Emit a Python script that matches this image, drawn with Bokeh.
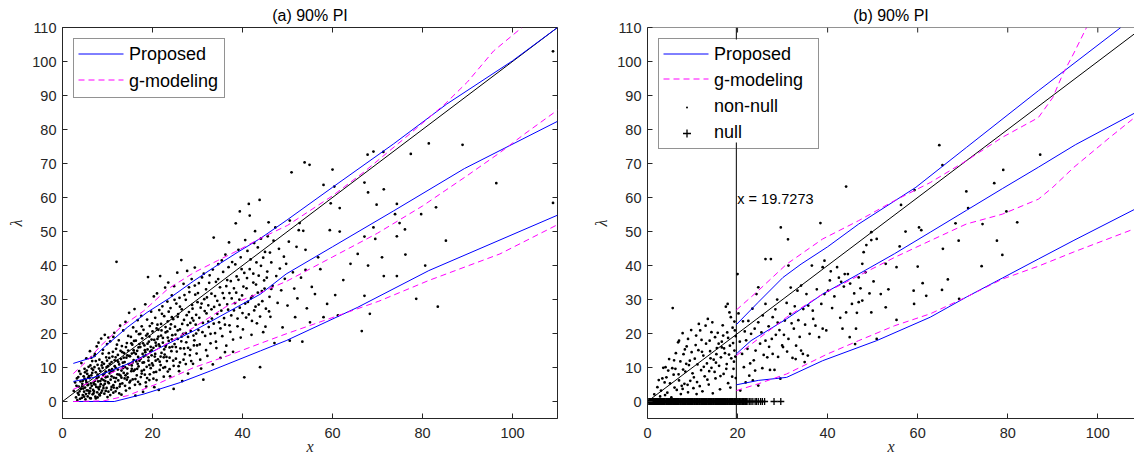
from bokeh.plotting import figure
from bokeh.layouts import row
from bokeh.models import Range1d, Label, FixedTicker, Span, Legend, LegendItem
from bokeh.embed import file_html
from bokeh.resources import INLINE

BLUE = "#0000ff"
MAG = "#ff00ff"
AX = "#262626"
FONT = "Liberation Sans"
SERIF = "Liberation Serif"

x_ticks = [0, 20, 40, 60, 80, 100]
y_ticks = [0, 10, 20, 30, 40, 50, 60, 70, 80, 90, 100, 110]
titles = ["(a) 90% PI", "(b) 90% PI"]
threshold = 19.7273

# ---------------- panel (a) ----------------
a_diag_x = [0, 110]
a_diag_y = [0, 110]
a_prop_up_x = [2.4, 7.0, 9.2, 14.4, 18.8, 24.0, 29.2, 33.6, 38.8, 44.0, 49.7, 60.0, 73.5, 85.4, 100.0, 110.0]
a_prop_up_y = [11.2, 13.1, 15.9, 21.8, 26.2, 30.6, 35.5, 39.4, 43.8, 48.0, 53.2, 63.0, 75.7, 87.5, 100.2, 110.0]
a_gmod_up_x = [2.4, 5.5, 8.5, 12.9, 18.1, 23.3, 29.2, 34.4, 38.8, 44.0, 50.0, 60.0, 67.0, 72.0, 77.0, 85.0, 90.0, 95.8, 102.1]
a_gmod_up_y = [8.2, 12.0, 16.4, 21.8, 26.7, 33.0, 37.9, 41.4, 44.3, 48.0, 51.8, 60.5, 67.5, 73.0, 78.5, 87.5, 94.0, 103.1, 110.0]
a_prop_mid_x = [2.4, 7.0, 10.7, 14.4, 18.1, 21.8, 29.2, 36.6, 44.0, 49.7, 60.0, 73.5, 89.3, 110.0]
a_prop_mid_y = [5.9, 7.1, 9.0, 11.0, 13.4, 15.9, 20.8, 26.2, 31.6, 37.5, 45.5, 56.0, 68.5, 82.4]
a_gmod_mid_x = [2.4, 7.0, 14.4, 21.8, 29.2, 36.6, 44.0, 50.0, 60.0, 70.0, 80.0, 90.0, 97.0, 103.0, 110.0]
a_gmod_mid_y = [3.6, 6.1, 10.5, 15.9, 21.8, 28.1, 32.0, 35.5, 42.5, 49.5, 57.5, 66.5, 73.0, 79.0, 85.7]
a_prop_lo_x = [2.4, 11.5, 18.1, 26.2, 32.9, 44.0, 49.7, 65.6, 81.4, 110.0]
a_prop_lo_y = [0.0, 0.0, 2.2, 5.6, 9.0, 14.9, 17.9, 27.7, 38.5, 54.8]
a_gmod_lo_x = [2.4, 9.2, 14.4, 21.8, 29.2, 36.6, 44.0, 49.7, 62.4, 70.3, 81.4, 97.2, 110.0]
a_gmod_lo_y = [0.0, 0.2, 1.7, 5.6, 10.0, 13.4, 17.1, 19.9, 25.8, 29.5, 35.6, 43.4, 52.0]

a_pts = [
    (2.5,3.1),(2.8,5.6),(3.0,1.2),(3.2,6.8),(3.4,2.5),(3.6,4.4),(3.7,8.9),(3.9,0.8),(4.1,3.7),(4.2,11.3),
    (4.4,5.2),(4.5,1.9),(4.7,7.4),(4.8,2.9),(4.9,9.6),(5.0,4.1),(5.1,0.6),(5.2,6.3),(5.3,12.7),(5.4,3.3),
    (5.5,8.1),(5.6,1.5),(5.7,5.0),(5.8,10.2),(5.9,2.4),(6.0,6.9),(6.1,14.8),(6.2,3.9),(6.3,0.9),(6.4,7.7),
    (6.5,4.6),(6.6,11.9),(6.7,2.1),(6.8,9.3),(6.9,5.5),(7.0,3.0),(7.1,13.4),(7.2,6.1),(7.3,1.4),(7.4,8.6),
    (7.5,4.3),(7.6,16.2),(7.7,2.7),(7.8,10.8),(7.9,5.9),(8.0,7.2),(8.1,3.6),(8.2,12.3),(8.3,1.8),(8.4,9.0),
    (8.5,5.1),(8.6,18.5),(8.7,6.6),(8.8,3.2),(8.9,14.1),(9.0,7.9),(9.1,4.7),(9.2,11.1),(9.3,2.3),(9.4,19.6),
    (9.5,6.0),(9.6,8.8),(9.7,13.0),(9.8,4.0),(9.9,16.9),(10.0,7.3),(10.1,10.4),(10.2,2.9),(10.3,5.4),(10.4,12.8),
    (10.5,8.3),(10.6,17.7),(10.7,6.4),(10.8,3.5),(10.9,11.6),(11.0,9.5),(11.2,14.6),(11.3,4.8),(11.4,7.0),(11.5,20.2),
    (11.6,12.1),(11.7,5.8),(11.8,9.9),(11.9,15.5),(12.0,41.1),(12.1,3.9),(12.2,8.0),(12.3,13.7),(12.4,6.2),(12.5,18.0),
    (12.6,10.9),(12.7,4.4),(12.8,22.3),(12.9,7.6),(13.0,12.5),(13.1,9.1),(13.2,16.3),(13.3,5.3),(13.4,11.4),(13.5,20.9),
    (13.6,8.4),(13.7,14.2),(13.8,6.8),(13.9,10.1),(14.0,23.4),(14.1,3.2),(14.2,12.9),(14.3,17.2),(14.4,9.7),(14.5,7.1),
    (14.6,15.0),(14.7,11.0),(14.8,26.1),(14.9,5.6),(15.0,13.3),(15.2,19.0),(15.3,8.9),(15.4,10.6),(15.5,16.7),(15.6,6.5),
    (15.7,21.8),(15.8,12.2),(15.9,14.4),(16.0,27.2),(16.1,9.4),(16.2,1.7),(16.3,17.9),(16.4,11.8),(16.5,7.7),(16.6,14.9),
    (16.7,23.9),(16.8,13.1),(16.9,10.3),(17.0,19.8),(17.2,5.1),(17.3,16.0),(17.4,12.6),(17.5,25.2),(17.6,9.0),(17.7,18.6),
    (17.8,14.0),(17.9,2.8),(18.0,21.1),(18.1,11.5),(18.2,16.5),(18.3,7.9),(18.4,28.6),(18.5,13.6),(18.6,19.4),(18.7,10.2),
    (18.8,24.1),(18.9,15.3),(19.0,36.6),(19.1,12.0),(19.2,17.6),(19.3,6.3),(19.4,22.2),(19.5,14.7),(19.6,9.8),(19.7,26.4),
    (19.8,18.2),(19.9,11.2),(20.0,20.6),(20.2,15.8),(20.3,30.9),(20.4,4.2),(20.5,13.2),(20.6,24.6),(20.7,17.3),(20.8,8.7),
    (20.9,21.5),(21.0,31.8),(21.2,12.4),(21.3,19.1),(21.4,3.4),(21.5,26.9),(21.6,16.2),(21.7,36.9),(21.8,10.7),(21.9,22.8),
    (22.0,14.3),(22.2,28.0),(22.3,18.7),(22.5,7.3),(22.6,25.1),(22.7,13.8),(22.8,33.5),(22.9,20.3),(23.0,16.6),(23.2,11.9),
    (23.3,29.4),(23.4,23.6),(23.5,35.0),(23.6,17.8),(23.8,9.5),(23.9,21.4),(24.0,27.5),(24.2,14.8),(24.3,31.2),(24.4,19.5),
    (24.6,24.2),(24.7,3.7),(24.8,33.9),(24.9,16.9),(25.0,22.0),(25.2,12.6),(25.3,28.8),(25.5,37.9),(25.6,18.4),(25.7,25.7),
    (25.8,10.4),(26.0,30.5),(26.1,21.2),(26.2,15.6),(26.4,41.6),(26.5,27.1),(26.6,6.0),(26.8,19.9),(26.9,34.6),(27.0,24.0),
    (27.2,13.9),(27.4,29.9),(27.5,17.4),(27.7,38.4),(27.8,22.5),(27.9,8.2),(28.1,26.3),(28.2,32.2),(28.4,15.2),(28.5,20.7),
    (28.7,36.0),(28.8,28.4),(29.0,11.1),(29.1,23.8),(29.3,18.0),(29.4,39.4),(29.5,31.4),(29.7,25.5),(29.8,14.1),(30.0,29.2),
    (30.2,21.0),(30.3,34.8),(30.5,16.8),(30.7,27.6),(30.8,9.7),(31.0,36.5),(31.2,23.1),(31.3,6.4),(31.5,30.1),(31.7,19.3),
    (31.9,33.0),(32.0,25.9),(32.2,13.4),(32.4,28.3),(32.5,21.9),(32.7,37.1),(32.9,17.1),(33.1,31.7),(33.2,24.4),(33.4,10.9),
    (33.6,48.2),(33.7,27.8),(33.9,20.1),(34.1,35.2),(34.2,15.7),(34.4,29.6),(34.6,40.4),(34.8,23.3),(35.0,33.6),(35.1,12.8),
    (35.3,26.7),(35.5,19.2),(35.7,38.1),(35.9,30.4),(36.1,22.6),(36.2,43.2),(36.4,16.4),(36.6,35.7),(36.8,27.0),(37.0,46.8),
    (37.1,31.9),(37.3,20.5),(37.5,25.3),(37.7,41.0),(37.9,14.6),(38.1,33.3),(38.3,28.9),(38.5,52.4),(38.7,36.8),(38.9,22.1),
    (39.1,44.6),(39.3,30.0),(39.4,55.9),(39.6,18.8),(39.8,38.9),(40.0,26.0),(40.2,33.8),(40.4,7.1),(40.6,47.5),(40.8,24.7),
    (41.0,36.3),(41.2,29.3),(41.4,58.1),(41.6,54.7),(41.8,41.8),(42.0,19.6),(42.2,31.0),(42.4,37.6),(42.6,26.8),(42.8,50.1),
    (43.0,34.4),(43.2,23.0),(43.4,45.3),(43.6,28.5),(43.8,59.3),(43.9,10.1),(44.1,39.9),(44.3,32.5),(44.6,20.4),(44.8,35.6),
    (45.0,44.0),(45.2,27.3),(45.5,38.2),(45.8,52.7),(46.0,30.8),(46.2,24.9),(46.4,40.9),(46.7,34.0),(46.9,47.3),(47.1,17.2),
    (47.3,51.2),(47.5,36.9),(47.8,29.0),(48.1,44.9),(48.3,39.1),(48.6,32.7),(48.9,21.8),(49.2,42.6),(49.4,36.1),(49.7,40.5),
    (50.0,28.2),(50.3,47.0),(50.5,53.2),(50.5,17.9),(50.9,67.4),(51.2,38.0),(51.5,33.2),(51.7,24.8),(52.0,45.5),(52.2,30.3),
    (52.5,50.4),(52.7,52.5),(53.0,36.4),(53.3,17.6),(53.5,50.2),(53.8,70.3),(54.0,44.6),(54.0,38.7),(54.3,27.4),(54.9,69.6),
    (55.0,23.3),(55.4,33.7),(56.1,31.6),(56.8,42.4),(57.3,38.9),(58.0,63.7),(58.0,24.8),(58.8,28.7),(59.4,50.4),(59.6,58.3),
    (60.0,68.2),(60.4,63.2),(60.6,31.3),(61.2,25.3),(61.6,56.9),(61.6,50.0),(62.4,35.7),(64.0,40.5),(65.6,43.4),(66.5,20.7),
    (67.1,64.4),(67.1,48.5),(67.1,31.1),(67.8,72.6),(67.9,61.5),(67.9,40.0),(68.3,25.8),(69.1,73.5),(69.1,51.2),(69.5,47.8),
    (69.8,57.9),(71.0,42.4),(71.3,73.4),(71.4,62.4),(71.4,36.9),(73.9,55.1),(74.3,58.1),(74.3,48.6),(74.3,36.9),(74.9,52.5),
    (76.1,50.6),(76.2,43.2),(77.4,72.8),(78.6,30.2),(79.7,55.1),(80.6,40.0),(81.4,75.9),(83.0,57.1),(83.4,27.9),(85.2,47.3),
    (88.9,75.5),(96.4,64.2),(109.0,103.0),(109.0,58.4),
    (3.1,4.6),(3.3,0.4),(3.5,7.2),(3.8,3.0),(4.0,5.9),(4.3,1.1),(4.6,3.8),(4.9,6.7),(5.2,2.2),(5.4,9.1),
    (5.6,4.8),(5.9,7.5),(6.1,1.0),(6.3,5.3),(6.6,8.4),(6.8,3.4),(7.1,10.1),(7.3,5.0),(7.6,6.8),(7.8,1.2),
    (8.1,9.7),(8.3,4.4),(8.6,2.6),(8.8,11.5),(9.1,6.3),(9.3,8.2),(9.6,3.1),(9.9,12.0),(10.1,5.7),(10.4,9.2),
    (10.6,1.9),(10.9,7.4),(11.1,13.2),(11.4,4.1),(11.6,10.4),(11.9,6.9),(12.1,16.7),(12.4,11.6),(12.6,2.4),(12.9,14.9),
    (13.1,7.0),(13.4,9.8),(13.6,12.9),(13.9,4.6),(14.1,16.0),(14.4,8.2),(14.6,19.3),(14.9,10.9),(15.1,6.1),(15.4,14.1),
    (15.6,11.5),(15.9,17.8),(16.1,4.9),(16.4,20.6),(16.6,9.6),(16.9,15.9),(17.1,12.0),(17.4,7.2),(17.6,22.1),(17.9,17.1),
    (18.1,9.3),(18.4,14.5),(18.6,4.4),(18.9,19.9),(19.1,13.0),(19.4,8.0),(19.6,16.1),(19.9,23.0),(20.1,10.6),(20.4,18.1),
    (20.6,14.0),(20.9,6.3),(21.1,22.6),(21.4,16.8),(21.6,11.7),(21.9,19.4),(22.1,25.8),(22.4,9.9),(22.6,15.3),(22.9,21.9),
    (23.1,13.1),(23.4,18.8),(23.6,26.4),(23.9,7.4),(24.1,22.7),(24.4,16.1),(24.6,12.0),(24.9,29.9),(25.1,19.7),(25.4,14.7),
    (25.6,24.9),(25.9,8.9),(26.1,27.9),(26.4,17.7),(26.6,22.8),(26.9,12.3),(27.1,31.3),(27.4,20.1),(27.6,25.4),(27.9,15.8),
    (28.1,33.6),(28.4,23.1),(28.6,11.9),(28.9,27.3),(29.1,19.4),(29.4,34.1),(29.6,22.6),(29.9,16.5),(30.1,31.9),(30.4,24.6),
    (30.6,12.3),(30.9,28.8),(31.1,20.4),(31.4,37.6),(31.6,26.6),(31.9,15.1),(32.1,30.6),(32.4,23.5),(32.6,34.9),(32.9,19.9),
    (33.1,27.1),(33.4,38.8),(33.6,22.9),(33.9,31.0),(34.1,17.6),(34.4,25.8),(34.6,36.0),(34.9,28.4),(35.1,21.5),(35.4,41.5),
    (35.6,31.9),(35.9,24.5),(36.1,14.5),(36.4,33.9),(36.6,28.6),(36.9,39.5),(37.1,22.4),(37.4,35.4),(37.6,30.3),(37.9,18.2),
    (38.1,26.8),(38.4,40.3),(38.6,32.0),(38.9,24.4),(39.1,35.8),(39.4,27.6),(39.6,42.4),(39.9,31.2),(40.1,21.2),(40.4,37.8),
    (40.6,28.8),(40.9,33.3),(41.1,44.3),(41.4,25.6),(41.6,38.9),(41.9,30.4),(42.1,23.7),(42.4,35.0),(42.6,46.6),(42.9,27.9),
    (43.1,40.9),(43.4,32.0),(43.6,37.0),(43.9,25.0),(44.1,47.9),(44.4,29.5),(44.6,42.3),(44.9,33.2),(45.1,22.0),(45.4,36.4),
    (45.6,48.6),(45.9,26.5),(46.1,43.8),(46.4,33.1),(7.2,14.0),(8.0,17.3),(9.0,15.2),(10.2,18.8),(11.3,19.0),(6.4,12.9),
    (4.5,6.1),(5.0,8.6),(5.7,3.2),(6.2,10.6),(6.9,2.4),(7.4,11.9),(7.9,4.1),(8.4,6.0),(8.9,9.9),(9.4,5.2),
    (9.8,10.1),(10.3,14.2),(10.8,8.9),(11.3,2.6),(11.8,13.0),(12.3,9.4),(12.8,5.1),(13.3,14.5),(13.8,11.6),(14.3,6.4),
    (14.8,13.4),(15.3,17.1),(15.8,9.0),(16.3,14.0),(16.8,5.8),(17.3,19.9),(17.8,11.4),(18.3,15.1),(18.8,6.9),(19.3,19.1),
    (19.8,13.6),(20.3,8.6),(20.8,16.4),(21.3,21.1),(21.8,13.2),(22.3,17.3),(22.8,10.1),(23.3,20.6),(23.8,15.9),(24.3,24.8),
    (3.6,2.0),(4.0,8.1),(4.4,4.5),(4.8,1.4),(5.3,5.7),(5.7,7.0),(6.1,3.0),(6.5,9.7),(7.0,5.1),(7.4,0.9),
    (7.8,7.9),(8.2,2.1),(8.7,10.6),(9.1,3.9),(9.6,7.1),(10.0,1.3),(10.5,11.1),(10.9,4.3),(11.3,9.0),(11.8,3.0),
    (12.2,12.0),(12.6,7.9),(13.1,2.0),(13.5,10.3),(14.0,7.7),(14.4,13.6),(14.9,3.9),(15.4,9.6),(15.8,15.1),(16.2,6.6),
    (16.7,11.1),(17.1,16.9),(17.6,8.2),(18.0,13.2),(18.5,5.6),(18.9,17.0),(19.3,10.7),(19.8,15.1),(20.2,6.7),(20.7,12.0),
    (21.1,18.4),(21.6,9.3),(22.0,20.9),(22.5,13.0),(22.9,16.1),(23.4,8.8),(23.8,12.9),(24.3,18.3),(24.7,10.5),(25.2,16.0),
    (25.6,20.9),(26.1,11.5),(26.5,19.1),(27.0,15.6),(27.4,11.0),(27.9,19.0),(28.3,13.6),(28.8,24.5),(29.2,16.5),(29.7,20.0),
]
a_pts_x = [p[0] for p in a_pts]
a_pts_y = [p[1] for p in a_pts]

# ---------------- panel (b) ----------------
b_prop_up_x = [19.7273, 24.6, 30.1, 34.1, 40.0, 46.9, 59.6, 70.8, 86.8, 105.1]
b_prop_up_y = [22.6, 29.2, 36.5, 40.4, 45.5, 52.2, 63.0, 74.7, 91.4, 110.0]
b_gmod_up_x = [19.7273, 24.6, 30.9, 38.9, 46.9, 54.9, 62.8, 70.8, 78.8, 86.8, 90.0, 92.3, 94.7, 97.5]
b_gmod_up_y = [26.9, 32.6, 40.4, 47.8, 53.2, 59.1, 64.4, 70.8, 77.7, 83.5, 89.4, 96.5, 102.5, 110.0]
b_prop_mid_x = [19.7273, 23.0, 30.9, 38.9, 46.9, 54.9, 62.8, 70.8, 78.8, 86.8, 95.0, 108.15]
b_prop_mid_y = [14.0, 17.9, 24.3, 31.6, 37.5, 43.5, 49.8, 56.2, 62.6, 68.9, 75.5, 84.8]
b_gmod_mid_x = [19.7273, 30.9, 38.9, 46.9, 54.9, 62.8, 70.8, 78.8, 86.8, 90.0, 94.7, 102.7, 108.15]
b_gmod_mid_y = [13.5, 24.8, 31.6, 37.0, 42.4, 47.3, 52.2, 55.1, 59.5, 63.0, 68.9, 77.7, 83.5]
b_prop_lo_x = [19.7273, 24.6, 30.9, 38.9, 50.9, 62.8, 70.8, 78.8, 86.8, 94.7, 108.15]
b_prop_lo_y = [4.9, 6.2, 7.1, 12.0, 17.9, 24.8, 30.7, 36.3, 41.9, 47.4, 56.5]
b_gmod_lo_x = [19.7273, 24.6, 30.9, 40.0, 46.9, 54.9, 62.8, 70.8, 78.8, 86.8, 94.7, 108.15]
b_gmod_lo_y = [3.2, 5.2, 8.1, 14.0, 17.9, 22.3, 25.8, 30.7, 36.0, 39.8, 44.0, 50.8]

b_nonnull = [
    (2.2,4.2),(2.8,1.5),(3.3,6.8),(3.5,9.9),(4.0,10.1),(4.2,7.1),(4.4,2.6),(4.6,9.1),(5.0,5.3),(5.3,1.2),
    (5.6,27.5),(5.8,7.9),(6.2,9.6),(6.5,3.4),(6.8,17.4),(7.0,6.2),(7.0,17.9),(7.3,11.8),(7.6,4.6),(7.8,20.1),
    (7.8,3.7),(8.0,13.9),(8.2,5.2),(8.4,8.8),(8.7,16.2),(9.0,2.7),(9.0,18.4),(9.2,10.7),(9.5,6.1),(9.8,14.5),
    (10.0,8.3),(10.2,3.9),(10.5,12.6),(10.8,19.4),(11.0,5.7),(11.3,15.1),(11.4,22.8),(11.7,20.9),(11.9,9.2),(12.2,3.0),
    (12.4,13.5),(12.7,7.4),(13.0,17.0),(13.2,11.2),(13.4,24.3),(13.6,5.0),(13.9,14.8),(14.2,20.4),(14.2,9.9),(14.5,2.4),
    (14.7,12.3),(15.0,18.9),(15.1,6.8),(15.4,15.7),(15.6,20.2),(15.9,10.5),(16.1,3.6),(16.3,13.0),(16.5,17.6),(16.8,19.4),
    (16.9,8.1),(17.2,14.2),(17.4,27.9),(17.6,11.0),(17.8,28.7),(17.9,5.4),(18.2,26.2),(18.3,16.4),(18.6,12.7),(18.9,21.7),
    (19.1,9.6),(19.3,15.0),(19.4,20.9),(19.5,13.2),(19.6,6.9),
    (1.5,2.1),(2.5,6.3),(3.0,3.2),(3.8,5.6),(4.8,12.5),(5.5,9.8),(6.0,4.1),(6.3,14.2),(6.9,8.0),(7.4,2.2),
    (7.9,9.4),(8.3,15.3),(8.9,4.9),(9.4,12.0),(9.7,21.0),(10.3,7.1),(10.7,16.6),(11.1,10.9),(11.6,4.5),(12.0,18.1),
    (12.5,10.2),(12.9,22.3),(13.3,6.4),(13.8,17.9),(14.0,12.7),(14.4,23.3),(14.9,8.7),(15.3,13.9),(15.8,17.0),(16.2,7.5),
    (16.7,22.4),(17.0,15.6),(17.5,9.6),(17.9,18.7),(18.1,13.8),(18.5,24.8),(18.8,7.3),(19.0,17.2),(19.2,11.7),(19.6,19.2),
    (20.0,37.5),(20.2,25.9),(20.6,3.2),(21.0,14.0),(21.4,10.1),(21.6,20.6),(22.2,15.5),(22.4,23.7),(22.6,7.6),(23.0,19.9),
    (23.4,6.2),(23.6,12.1),(23.8,21.4),(24.2,31.6),(24.6,23.3),(24.6,33.6),(24.6,4.7),(25.0,17.0),(25.5,9.8),(26.2,41.9),
    (26.2,28.7),(26.2,17.9),(26.6,13.0),(27.4,41.9),(27.8,24.8),(27.8,14.0),(28.2,9.3),(28.5,19.6),(28.8,30.0),(29.5,6.7),
    (29.6,51.2),(29.9,16.5),(30.1,16.0),(30.5,23.8),(30.9,29.0),(31.2,47.7),(31.3,40.0),(31.3,18.4),(31.7,25.8),(32.2,12.8),
    (32.5,21.4),(32.9,12.5),(33.3,32.6),(33.8,19.0),(34.1,34.1),(34.1,15.0),(34.5,14.0),(34.9,11.6),(35.3,31.6),(35.6,13.5),
    (35.7,28.2),(36.5,40.0),(36.7,26.7),(36.8,24.3),(37.3,22.3),(38.1,18.9),(38.4,52.5),(38.9,39.5),(38.9,21.4),(39.3,41.4),
    (39.3,31.6),(39.7,20.9),(40.1,32.6),(40.5,35.6),(41.0,27.5),(42.1,39.5),(42.5,36.4),(43.0,35.2),(43.3,21.4),(43.6,33.8),
    (44.1,63.2),(44.1,26.2),(44.5,37.5),(44.9,18.9),(45.4,28.7),(45.9,31.8),(46.1,16.9),(46.3,21.4),(46.9,36.5),(46.9,29.2),
    (47.7,40.5),(47.7,29.7),(48.0,43.9),(48.6,46.0),(49.3,31.8),(49.7,49.8),(49.7,47.5),(49.7,26.2),(50.9,47.8),(50.9,18.4),
    (51.8,31.6),(52.9,40.5),(52.9,27.7),(55.3,39.5),(55.3,24.0),(56.3,57.8),(57.3,50.0),(59.1,32.6),(59.2,28.7),(59.3,62.2),
    (60.0,39.7),(60.3,51.2),(60.8,50.4),(61.1,34.8),(61.9,31.1),(64.8,75.4),(65.4,32.8),(65.5,69.5),(65.6,44.9),(66.7,35.9),
    (68.4,52.4),(69.1,47.3),(69.2,30.2),(70.8,61.8),(71.2,56.9),(74.2,39.8),(74.4,52.2),(77.0,64.2),(77.6,47.3),(78.8,43.1),
    (79.0,68.1),(79.7,55.9),(82.1,52.7),(87.2,72.6),
    (20.5,17.6),(21.2,23.6),(21.8,5.6),(22.8,11.2),(23.3,27.3),(24.0,15.0),(25.3,20.3),(25.8,13.7),(26.9,22.1),(27.2,9.3),
    (27.6,18.4),(28.4,27.1),(29.0,13.1),(29.3,21.0),(30.3,19.6),(31.8,33.5),(32.7,28.0),(33.5,23.9),(34.6,27.2),(36.0,19.9),
    (37.6,33.0),(38.6,28.7),(40.7,38.3),(41.5,30.9),(42.8,24.6),(43.8,37.5),(45.0,34.7),(46.5,26.1),(47.3,33.3),(48.4,38.0),
    (50.2,35.3),(53.5,33.0),(56.0,45.6),
    (3.9,1.9),(5.9,12.1),(8.6,11.1),(10.9,2.2),(12.1,14.6),(13.7,8.9),(15.2,11.4),(16.5,15.9),(17.7,20.3),(18.4,4.1),
    (19.3,23.5),(21.9,18.0),(23.9,9.1),(25.6,25.3),(27.0,16.1),(28.9,23.2),(31.0,14.7),(32.0,23.0),(33.0,16.4),(35.0,22.6),
]
b_nonnull_x = [p[0] for p in b_nonnull]
b_nonnull_y = [p[1] for p in b_nonnull]

b_null_x = [0.3,0.4,0.5,0.6,0.7,0.8,0.9,1.0,1.1,1.2,1.3,1.4,1.5,1.6,1.7,1.8,1.9,2.0,2.1,2.2,2.3,2.4,2.5,2.6,
            2.7,2.8,2.9,3.0,3.1,3.2,3.3,3.5,3.6,3.7,3.8,3.9,4.1,4.2,4.3,4.4,4.6,4.7,4.8,4.9,5.1,5.2,5.3,5.4,
            5.6,5.7,5.8,5.9,6.0,6.2,6.3,6.4,6.5,6.7,6.8,6.9,7.0,7.2,7.3,7.4,7.5,7.7,7.8,7.9,8.0,8.2,8.3,8.4,
            8.5,8.6,8.8,8.9,9.0,9.1,9.3,9.4,9.5,9.6,9.8,9.9,10.0,10.1,10.3,10.4,10.5,10.6,10.8,10.9,11.0,11.1,
            11.2,11.4,11.5,11.6,11.7,11.9,12.0,12.1,12.2,12.4,12.5,12.6,12.7,12.9,13.0,13.1,13.2,13.4,13.5,13.6,
            13.7,13.8,14.0,14.1,14.2,14.3,14.5,14.6,14.7,14.8,15.0,15.1,15.2,15.3,15.5,15.6,15.7,15.8,16.0,16.1,
            16.2,16.3,16.4,16.6,16.7,16.8,16.9,17.1,17.2,17.3,17.4,17.6,17.7,17.8,17.9,18.1,18.2,18.3,18.4,18.6,
            18.7,18.8,18.9,19.0,19.2,19.3,19.4,19.5,19.7,19.8,19.9,20.1,20.3,20.4,20.6,20.8,21.0,21.1,21.3,21.5,
            21.8,22.0,22.3,22.7,23.0,23.4,23.9,24.2,24.6,25.1,25.5,26.0,28.1,29.6]
b_null_y = [0.0] * len(b_null_x)

# ---------------- layout geometry (pixels) ----------------
H = 460
TOP, BOTTOM = 27, 42
FRAME_H = H - TOP - BOTTOM
LEG_MARGIN, LEG_PAD, GLYPH_W, ROW_H, LABEL_GAP = 11, 5, 45, 20, 5


def style_axis(ax):
    ax.axis_line_color = AX
    ax.major_tick_line_color = AX
    ax.major_tick_in = 5
    ax.major_tick_out = 0
    ax.minor_tick_in = 0
    ax.minor_tick_out = 0
    ax.minor_tick_line_color = None
    ax.major_label_text_font = FONT
    ax.major_label_text_color = AX
    ax.major_label_text_font_size = "14.5px"
    ax.axis_label_text_font = SERIF
    ax.axis_label_text_font_style = "italic"
    ax.axis_label_text_font_size = "16px"
    ax.axis_label_text_color = AX


def make_fig(width, left, right, xmax, title, box_right):
    p = figure(width=width, height=H, x_range=Range1d(0, xmax), y_range=Range1d(-5, 110),
               output_backend="svg", toolbar_location=None, title=title,
               min_border_left=left, min_border_right=right, min_border_top=TOP, min_border_bottom=BOTTOM)
    p.xgrid.visible = False
    p.ygrid.visible = False
    p.outline_line_color = AX if box_right else None
    p.title.text_font = FONT
    p.title.text_font_size = "16px"
    p.title.text_font_style = "normal"
    p.title.text_color = "black"
    p.title.align = "center"
    p.title.standoff = 8
    p.xaxis.ticker = FixedTicker(ticks=x_ticks)
    p.yaxis.ticker = FixedTicker(ticks=y_ticks)
    style_axis(p.xaxis[0])
    style_axis(p.yaxis[0])
    p.xaxis.major_label_standoff = 9
    p.yaxis.major_label_standoff = 6
    p.xaxis.axis_label = "x"
    p.yaxis.axis_label = "λ"
    p.xaxis.axis_label_standoff = -3
    p.yaxis.axis_label_standoff = 4
    frame_w = width - left - right
    tlx = 5 * xmax / frame_w
    tly = 5 * 115 / FRAME_H
    p.segment(x0=x_ticks, y0=[110] * len(x_ticks), x1=x_ticks, y1=[110 - tly] * len(x_ticks),
              line_color=AX, line_width=1)
    if box_right:
        p.segment(x0=[xmax] * len(y_ticks), y0=y_ticks, x1=[xmax - tlx] * len(y_ticks), y1=y_ticks,
                  line_color=AX, line_width=1)
    else:
        p.add_layout(Span(location=110, dimension="width", line_color=AX, line_width=1))
    return p


def legend_backdrop(p, width, left, right, xmax, n, spacing, label_width, samples):
    """White legend background plus sample lines, drawn as glyphs above the data;
    the Legend annotation itself (transparent) adds border, labels and markers."""
    frame_w = width - left - right
    sx = xmax / frame_w
    sy = 115 / FRAME_H
    box_w = 2 * LEG_PAD + GLYPH_W + LABEL_GAP + label_width
    box_h = 2 * LEG_PAD + n * ROW_H + (n - 1) * spacing
    l_px, t_px = LEG_MARGIN + 1, LEG_MARGIN + 1
    r_px, b_px = LEG_MARGIN + box_w - 1, LEG_MARGIN + box_h - 1
    p.quad(left=[l_px * sx], right=[r_px * sx], top=[110 - t_px * sy], bottom=[110 - b_px * sy],
           fill_color="white", line_color=None)
    for i, (color, dash) in enumerate(samples):
        px0 = LEG_MARGIN + LEG_PAD
        px1 = px0 + GLYPH_W
        py = LEG_MARGIN + LEG_PAD + ROW_H / 2 + i * (ROW_H + spacing) + 0.5
        y = 110 - py * sy
        p.line([px0 * sx, px1 * sx], [y, y], line_color=color, line_width=1, line_dash=dash)


def make_legend(items, spacing, label_width):
    return Legend(items=items, location="top_left", margin=LEG_MARGIN, padding=LEG_PAD, spacing=spacing,
                  label_height=ROW_H, glyph_height=ROW_H, glyph_width=GLYPH_W, label_standoff=LABEL_GAP,
                  label_width=label_width, label_text_font=FONT, label_text_font_size="18px",
                  label_text_color="black", border_line_color=AX, border_line_width=1,
                  background_fill_alpha=0.0)


DASH = "6 4"

# panel a
WA, LA, RA = 588, 62, 31
pa = make_fig(WA, LA, RA, 110, titles[0], True)
pa.scatter(a_pts_x, a_pts_y, marker="dot", size=11, line_color="black", fill_color="black")
pa.line(a_diag_x, a_diag_y, line_color="black", line_width=1)
pa.line(a_prop_up_x, a_prop_up_y, line_color=BLUE, line_width=1)
pa.line(a_gmod_up_x, a_gmod_up_y, line_color=MAG, line_width=1, line_dash=DASH)
pa.line(a_prop_mid_x, a_prop_mid_y, line_color=BLUE, line_width=1)
pa.line(a_gmod_mid_x, a_gmod_mid_y, line_color=MAG, line_width=1, line_dash=DASH)
pa.line(a_prop_lo_x, a_prop_lo_y, line_color=BLUE, line_width=1)
pa.line(a_gmod_lo_x, a_gmod_lo_y, line_color=MAG, line_width=1, line_dash=DASH)
SP_A, LW_A = 6, 90
legend_backdrop(pa, WA, LA, RA, 110, 2, SP_A, LW_A, [(BLUE, "solid"), (MAG, DASH)])
la_prop = pa.line([], [], line_color=BLUE, line_width=1)
la_gmod = pa.line([], [], line_color=MAG, line_width=1, line_dash=DASH)
pa.add_layout(make_legend([LegendItem(label="Proposed", renderers=[la_prop]),
                           LegendItem(label="g-modeling", renderers=[la_gmod])], SP_A, LW_A))

# panel b
WB, LB, RB = 546, 59, 0
XB = 108.15
pb = make_fig(WB, LB, RB, XB, titles[1], False)
pb.line([threshold, threshold], [-5, 110], line_color="black", line_width=1)
rnn = pb.scatter(b_nonnull_x, b_nonnull_y, marker="dot", size=11, line_color="black", fill_color="black")
rnull = pb.scatter(b_null_x, b_null_y, marker="cross", size=7, line_color="black", line_width=1.3)
pb.line(a_diag_x, a_diag_y, line_color="black", line_width=1)
pb.line(b_prop_up_x, b_prop_up_y, line_color=BLUE, line_width=1)
pb.line(b_gmod_up_x, b_gmod_up_y, line_color=MAG, line_width=1, line_dash=DASH)
pb.line(b_prop_mid_x, b_prop_mid_y, line_color=BLUE, line_width=1)
pb.line(b_gmod_mid_x, b_gmod_mid_y, line_color=MAG, line_width=1, line_dash=DASH)
pb.line(b_prop_lo_x, b_prop_lo_y, line_color=BLUE, line_width=1)
pb.line(b_gmod_lo_x, b_gmod_lo_y, line_color=MAG, line_width=1, line_dash=DASH)
SP_B, LW_B = 5, 99
legend_backdrop(pb, WB, LB, RB, XB, 4, SP_B, LW_B, [(BLUE, "solid"), (MAG, DASH)])
lb_prop = pb.line([], [], line_color=BLUE, line_width=1)
lb_gmod = pb.line([], [], line_color=MAG, line_width=1, line_dash=DASH)
pb.add_layout(Label(x=threshold, y=59.5, x_offset=1, text="x = 19.7273", text_baseline="middle",
                    text_align="left", text_font=FONT, text_font_size="14.5px", text_color="black"))
pb.add_layout(make_legend([LegendItem(label="Proposed", renderers=[lb_prop]),
                           LegendItem(label="g-modeling", renderers=[lb_gmod]),
                           LegendItem(label="non-null", renderers=[rnn]),
                           LegendItem(label="null", renderers=[rnull])], SP_B, LW_B))

layout = row(pa, pb)
open("out.html", "w").write(file_html(layout, INLINE))
